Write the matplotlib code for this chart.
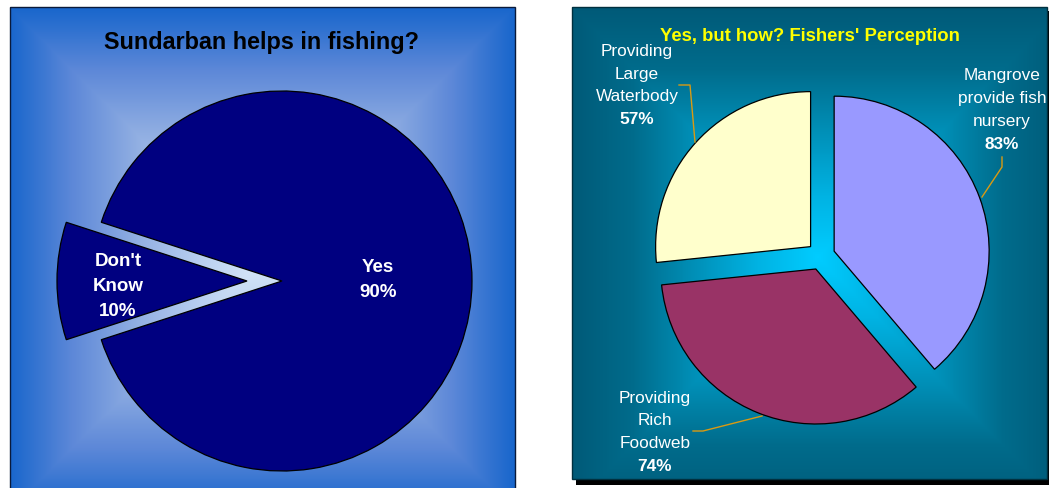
import numpy as np
import matplotlib
matplotlib.use("Agg")
import matplotlib.pyplot as plt
from matplotlib.colors import LinearSegmentedColormap
from matplotlib.patches import Rectangle

plt.rcParams['font.family'] = ['Liberation Sans', 'DejaVu Sans']

W, H = 1049, 489

# left chart: does the forest help fishing?
help_labels = ["Yes", "Don't\nKnow"]
help_values = [90, 10]

# right chart: how it helps (percent of fishers naming each reason)
how_labels = ["Mangrove\nprovide fish\nnursery",
              "Providing\nRich\nFoodweb",
              "Providing\nLarge\nWaterbody"]
how_values = [83, 74, 57]
how_colors = ['#9999ff', '#993366', '#ffffcc']


def Y(y):
    # image rows (top down) -> data y (bottom up)
    return H - y


def rect_gradient(ax, x0, x1, y0, y1, cx, cy, colors, zorder=0):
    # rectangular "from centre" gradient, like an office fill
    xs = np.arange(x0, x1) + 0.5
    ys = np.arange(y0, y1) + 0.5
    gx, gy = np.meshgrid(xs, ys)
    hw = max(cx - x0, x1 - cx)
    hh = max(cy - y0, y1 - cy)
    t = np.maximum(np.abs(gx - cx) / hw, np.abs(gy - cy) / hh)
    cmap = LinearSegmentedColormap.from_list('g', colors)
    ax.imshow(cmap(np.clip(t, 0, 1)), extent=(x0, x1, Y(y1), Y(y0)),
              interpolation='bilinear', zorder=zorder)


def stacked_label(ax, x, baselines, lines, pct, size, color='white',
                  bold_all=False):
    for b, s in zip(baselines[:-1], lines):
        ax.text(x, Y(b), s, ha='center', va='baseline', fontsize=size,
                color=color, fontweight='bold' if bold_all else 'normal')
    ax.text(x, Y(baselines[-1]), pct, ha='center', va='baseline',
            fontsize=size, color=color, fontweight='bold')


def leader(ax, pts, color='#d99a12'):
    xs = [p[0] for p in pts]
    ys = [Y(p[1]) for p in pts]
    ax.plot(xs, ys, color=color, lw=1.0, zorder=5)


fig = plt.figure(figsize=(W / 100, H / 100), dpi=100)
fig.patch.set_facecolor('white')
ax = fig.add_axes([0, 0, 1, 1])

# ---- left panel ----
rect_gradient(ax, 10, 515, 8, 512, 262, 260,
              ['#d8e8f8', '#b8cef0', '#90aee2', '#5d88d8', '#1866cc'])
ax.add_patch(Rectangle((10, Y(512)), 505, 504, fill=False,
                       edgecolor='#0a1a3a', lw=1.0, zorder=6))

ax.pie(help_values, startangle=198, counterclock=True,
       explode=[0, 35], center=(282, Y(282)), radius=190,
       colors=['#000080', '#000080'],
       wedgeprops=dict(edgecolor='black', linewidth=0.9))

ax.text(262, Y(49), "Sundarban helps in fishing?", ha='center',
        va='baseline', fontsize=16.8, fontweight='bold', color='black')

stacked_label(ax, 378, [272, 297], help_labels[0].split('\n'),
              f"{help_values[0]}%", 13.5, bold_all=True)
stacked_label(ax, 118, [266, 291, 316], help_labels[1].split('\n'),
              f"{help_values[1]}%", 13.5, bold_all=True)

# ---- right panel ----
ax.add_patch(Rectangle((576, Y(486)), 473, 474, facecolor='black',
                       edgecolor='none', zorder=0))
rect_gradient(ax, 572, 1047, 8, 480, 818, 258,
              ['#00ccff', '#00b2e2', '#0090b8', '#006c8c', '#005a78'],
              zorder=1)
ax.add_patch(Rectangle((572, Y(480)), 475, 472, fill=False,
                       edgecolor='#00303f', lw=1.0, zorder=6))

ax.pie(how_values, startangle=90, counterclock=False,
       explode=[14, 14, 14], center=(821, Y(257)), radius=155,
       colors=how_colors,
       wedgeprops=dict(edgecolor='black', linewidth=0.9, zorder=3))

ax.text(810, Y(41), "Yes, but how? Fishers' Perception", ha='center',
        va='baseline', fontsize=13.3, fontweight='bold', color='#ffff00')

stacked_label(ax, 1002, [80, 103, 126, 149], how_labels[0].split('\n'),
              f"{how_values[0]}%", 12.4)
stacked_label(ax, 655, [403, 425, 448, 471], how_labels[1].split('\n'),
              f"{how_values[1]}%", 12.4)
stacked_label(ax, 637, [56, 79, 101, 124], how_labels[2].split('\n'),
              f"{how_values[2]}%", 12.4)

leader(ax, [(1002, 158), (1002, 168), (982, 198)])
leader(ax, [(762, 417), (703, 432), (693, 432)])
leader(ax, [(679, 86), (690, 86), (695, 143)])

ax.set_xlim(0, W)
ax.set_ylim(0, H)
ax.set_aspect('auto')
ax.axis('off')

fig.savefig('out.png', dpi=100, facecolor='white')
